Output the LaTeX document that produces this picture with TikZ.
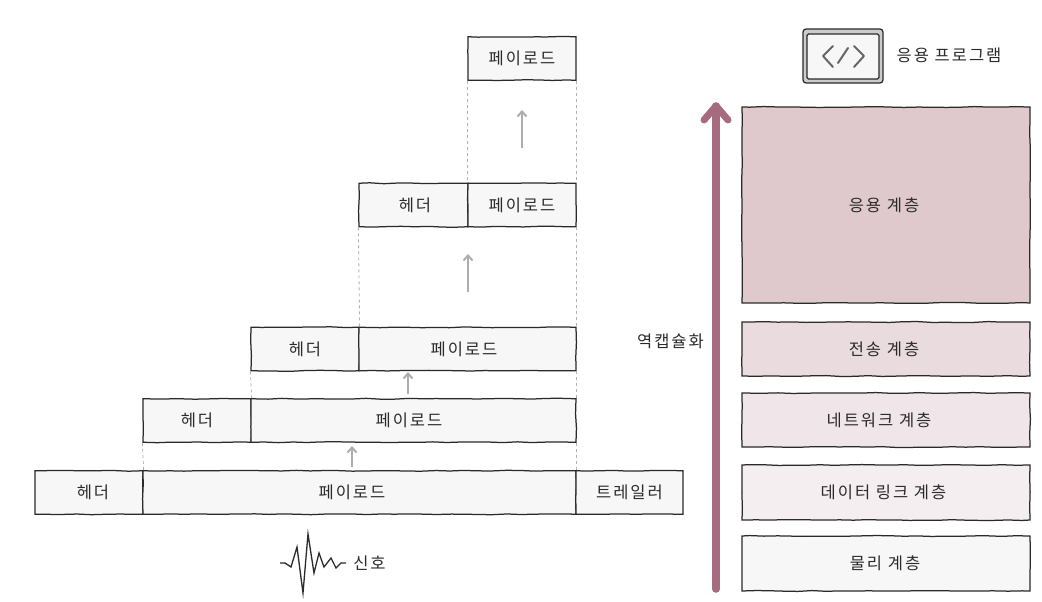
\documentclass[tikz,border=0pt]{standalone}
\usepackage{fontspec}
\usetikzlibrary{decorations.pathmorphing,arrows.meta}
\newfontfamily\krfont[LetterSpace=12]{Noto Sans CJK KR}
\definecolor{ink}{HTML}{2A2A2A}
\definecolor{boxfill}{HTML}{F7F7F7}
\definecolor{rosearrow}{HTML}{A66B7E}
\definecolor{layerA}{HTML}{DFC9CD}
\definecolor{layerB}{HTML}{E9DBDE}
\definecolor{layerC}{HTML}{F0E6E9}
\definecolor{layerD}{HTML}{F4EEF0}
\definecolor{layerE}{HTML}{F8F7F7}
\tikzset{
  x=1pt,y=-1pt,
  sketch/.style={decorate,decoration={random steps,segment length=14pt,amplitude=0.45pt}},
  base/.style={draw=ink,line width=1.25pt,sketch,inner sep=0pt,font=\krfont\fontsize{16.5}{20}\selectfont,text=ink},
  databox/.style={base,fill=boxfill,minimum height=43.5pt},
  layerbox/.style={base,minimum width=288pt},
  label/.style={inner sep=0pt,font=\krfont\fontsize{16.5}{20}\selectfont,text=ink},
  guide/.style={draw=black!30,line width=0.9pt,dashed,dash pattern=on 3pt off 3pt},
  liftarrow/.style={draw=black!32,line width=2pt,-{Straight Barb[length=5pt,width=9pt]}},
}
\begin{document}
\begin{tikzpicture}
\pgfmathsetseed{7}
\useasboundingbox (0,0) rectangle (1042,602);
% data boxes
\node[databox,minimum width=108pt] (p1) at (522,58.5) {페이로드};
\node[databox,minimum width=109pt] (h2) at (413.5,205) {\hspace*{3pt}헤더};
\node[databox,minimum width=108pt] (p2) at (522,205) {페이로드};
\node[databox,minimum width=108pt] (h3) at (305,349) {헤더};
\node[databox,minimum width=217pt] (p3) at (467.5,349) {페이로드\hspace*{7pt}};
\node[databox,minimum width=108pt] (h4) at (197,420.5) {헤더};
\node[databox,minimum width=325pt] (p4) at (413.5,420.5) {페이로드\hspace*{9pt}};
\node[databox,minimum width=108pt] (h5) at (89,492.5) {\hspace*{8pt}헤더};
\node[databox,minimum width=433pt] (p5) at (359.5,492.5) {페이로드\hspace*{15pt}};
\node[databox,minimum width=107pt] (t5) at (629.5,492.5) {트레일러};
% guides
\draw[guide] (p1.south west) -- (p2.north west);
\draw[guide] (p1.south east) -- (p2.north east);
\draw[guide] (h2.south west) -- (h3.north east);
\draw[guide] (p2.south east) -- (p3.north east);
\draw[guide] (h3.south west) -- (h4.north east);
\draw[guide] (p3.south east) -- (p4.north east);
\draw[guide] (h4.south west) -- (h5.north east);
\draw[guide] (p4.south east) -- (p5.north east);
% lift arrows
\coordinate (a1s) at (522,148); \coordinate (a1e) at (522,110);
\coordinate (a2s) at (468,292); \coordinate (a2e) at (468,254);
\coordinate (a3s) at (408,394); \coordinate (a3e) at (408,372);
\coordinate (a4s) at (352,467); \coordinate (a4e) at (352,446);
\draw[liftarrow] (a1s) -- (a1e);
\draw[liftarrow] (a2s) -- (a2e);
\draw[liftarrow] (a3s) -- (a3e);
\draw[liftarrow] (a4s) -- (a4e);
% signal
\draw[ink,line width=1.3pt,line join=miter] (280,563) -- (285,563) -- (291,567) -- (297,547) -- (303,593) -- (308,534) -- (314,573) -- (319,553) -- (324,567) -- (331,558) -- (336,568) -- (341,563) -- (346,563);
\node[label] (sig) at (369.5,563) {신호};
% layers
\node[layerbox,fill=layerA,minimum height=196pt] (l1) at (886,205) {응용 계층\hspace*{4pt}};
\node[layerbox,fill=layerB,minimum height=54pt] (l2) at (886,349) {전송 계층\hspace*{4pt}};
\node[layerbox,fill=layerC,minimum height=54pt] (l3) at (886,420) {네트워크 계층\hspace*{14pt}};
\node[layerbox,fill=layerD,minimum height=55pt] (l4) at (886,492.5) {데이터 링크 계층\hspace*{5pt}};
\node[layerbox,fill=layerE,minimum height=55pt] (l5) at (886,563.5) {물리 계층\hspace*{2pt}};
% decapsulation arrow
\coordinate (up0) at (716,589);
\coordinate (up1) at (716,106);
\coordinate (upl) at (704,120);
\coordinate (upr) at (728,120);
\draw[rosearrow,line width=7.5pt,line cap=round,line join=round] (up0) -- (up1);
\draw[rosearrow,line width=7pt,line cap=round,line join=round] (upl) -- (up1) -- (upr);
\node[label] (dec) at (670.5,341) {역캡슐화};
% program icon
\node[draw=ink,line width=1.25pt,fill=black!20,rounded corners=3pt,minimum width=80pt,minimum height=54pt,inner sep=0pt] (ico) at (843,56) {};
\node[draw=ink,line width=1.25pt,fill=boxfill,rounded corners=1.5pt,minimum width=72pt,minimum height=45pt,inner sep=0pt] (scr) at (843,56.5) {};
\draw[black!60,line width=2pt,line cap=round,line join=round] (833,46) -- (823,56) -- (833,67);
\draw[black!60,line width=2pt,line cap=round] (848,48) -- (838,63);
\draw[black!60,line width=2pt,line cap=round,line join=round] (854,46) -- (864,56) -- (854,67);
\node[label] (app) at (949,55) {응용 프로그램};
\end{tikzpicture}
\end{document}
